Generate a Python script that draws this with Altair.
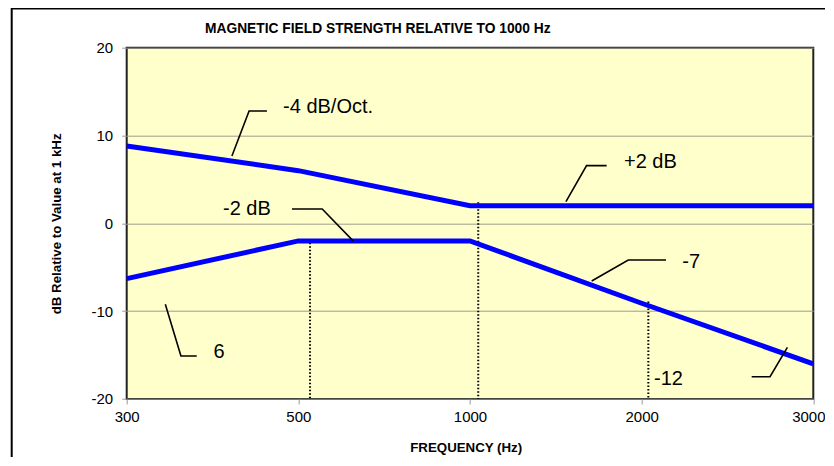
import json
import altair as alt
import pandas as pd

FONT = "Liberation Sans"

# ---- data ----
freq_labels = ["300", "500", "1000", "2000", "3000"]
upper_db = [8.8, 6.0, 2.0, 2.0, 2.0]
lower_db = [-6.3, -2.0, -2.0, -9.1, -16.0]
y_ticks = [-20, -10, 0, 10, 20]

# dotted drop lines (x in category-index units)
drop_x = [1.068, 2.048, 3.039]
drop_top = [-2.2, 2.4, -8.9]
drop_bottom = [-20, -20, -20]

# annotation texts
note_text = ["-4 dB/Oct.", "-2 dB", "+2 dB", "-7", "-12", "6"]
note_x = [0.911, 0.561, 2.897, 3.237, 3.072, 0.505]
note_y = [13.25, 1.63, 7.02, -4.37, -17.76, -14.69]

# leader lines (id, x, y)
leader_id = [1, 1, 1, 2, 2, 2, 3, 3, 3, 4, 4, 4, 5, 5, 5, 6, 6, 6]
leader_x = [0.613, 0.713, 0.817,
            0.963, 1.139, 1.319,
            2.796, 2.679, 2.559,
            3.142, 2.922, 2.709,
            3.641, 3.748, 3.849,
            0.408, 0.316, 0.225]
leader_y = [7.67, 12.8, 12.8,
            1.63, 1.63, -2.0,
            6.57, 6.57, 2.47,
            -4.17, -4.17, -6.57,
            -17.47, -17.47, -14.12,
            -15.1, -15.1, -9.22]

title_text = "MAGNETIC FIELD STRENGTH RELATIVE TO 1000 Hz"
x_title = "FREQUENCY (Hz)"
y_title = "dB Relative to Value at 1 kHz"

# ---- tables ----
n = len(freq_labels)
series_df = pd.DataFrame({
    "series": ["upper"] * n + ["lower"] * n,
    "x": list(range(n)) * 2,
    "y": upper_db + lower_db,
})
drop_df = pd.DataFrame({"x": drop_x, "y": drop_top, "y2": drop_bottom})
note_df = pd.DataFrame({"x": note_x, "y": note_y, "label": note_text})
leader_df = pd.DataFrame({
    "id": leader_id,
    "seq": [i % 3 for i in range(len(leader_id))],
    "x": leader_x,
    "y": leader_y,
})

W, H = 686.6, 351.3
label_expr = json.dumps(freq_labels) + "[datum.value]"

x_enc = alt.X(
    "x:Q",
    scale=alt.Scale(domain=[0, n - 1], nice=False, zero=False),
    axis=alt.Axis(
        values=list(range(n)), labelExpr=label_expr, title=x_title,
        labelFlush=False, labelOverlap=False,
        labelOffset={"condition": {"test": f"datum.value == {n - 1}", "value": -5}, "value": 0},
        grid=False, domain=False, ticks=True, tickSize=5, tickColor="#999999",
        labelFontSize=15, labelFont=FONT, labelColor="black", labelPadding=6,
        titleFont=FONT, titleFontSize=13.3, titleFontWeight="bold", titleColor="black",
        titleX=339, titleY=49, titleBaseline="middle", titleAlign="center",
    ),
)
y_enc = alt.Y(
    "y:Q",
    scale=alt.Scale(domain=[-20, 20], nice=False, zero=False),
    axis=alt.Axis(
        values=y_ticks, title=y_title, labelExpr="'' + datum.value",
        labelFlush=False, labelOverlap=False,
        grid=True, gridColor="#9c9c8c", gridWidth=1,
        domain=False, ticks=True, tickSize=5, tickColor="#999999",
        labelFontSize=15, labelFont=FONT, labelColor="black", labelPadding=9,
        titleFont=FONT, titleFontSize=13.3, titleFontWeight="bold", titleColor="black",
        titleX=-69.7, titleY=H / 2, titleAngle=270, titleBaseline="middle", titleAlign="center",
    ),
)

lines = alt.Chart(series_df).mark_line(color="#0000FF", strokeWidth=5).encode(
    x=x_enc, y=y_enc, detail="series:N"
)

drops = alt.Chart(drop_df).mark_rule(color="black", strokeWidth=2, strokeDash=[1.5, 2]).encode(
    x=x_enc, y=y_enc, y2="y2:Q"
)

leaders = alt.Chart(leader_df).mark_line(color="black", strokeWidth=1.6).encode(
    x=x_enc, y=y_enc, detail="id:N", order="seq:Q"
)

notes = alt.Chart(note_df).mark_text(
    align="left", baseline="middle", font=FONT, fontSize=20, color="black"
).encode(x=x_enc, y=y_enc, text="label:N")

title_df = pd.DataFrame({"t": [title_text]})
title = alt.Chart(title_df).mark_text(
    align="left", baseline="middle", font=FONT, fontSize=13.8, fontWeight="bold", color="black"
).encode(x=alt.value(78.3), y=alt.value(-18.4), text="t:N")

frame_df = pd.DataFrame({"k": [0]})
frame = alt.Chart(frame_df).mark_rect(filled=False, stroke="black", strokeWidth=2).encode(
    x=alt.value(-115), x2=alt.value(900), y=alt.value(-39.2), y2=alt.value(600)
)

chart = alt.layer(drops, lines, leaders, notes, title, frame).properties(
    width=W, height=H,
    autosize=alt.AutoSizeParams(type="none"),
    padding={"left": 118.7, "top": 39.7, "right": 12, "bottom": 58},
    background="white",
).configure_view(
    fill="#FFFFCC", stroke="#222222", strokeWidth=2
)

chart.save("out.html", embed_options={"renderer": "svg", "actions": False})
